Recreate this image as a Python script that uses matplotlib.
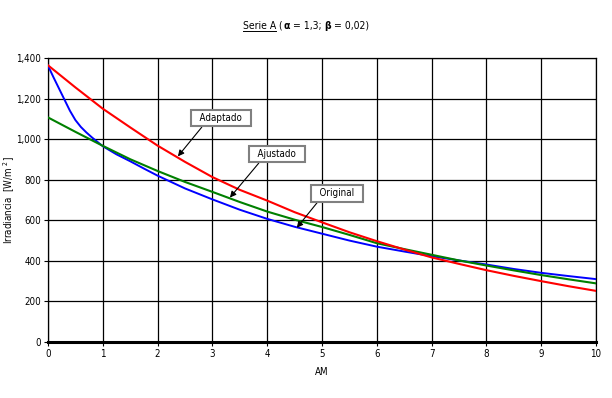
import numpy as np
import matplotlib
matplotlib.use("Agg")
import matplotlib.pyplot as plt
from matplotlib.ticker import FuncFormatter

plt.rcParams.update({"font.family": ["DejaVu Sans"], "font.stretch": "condensed",
                     "font.size": 7})

# valores
am = [0, 0.5, 1, 1.5, 2, 2.5, 3, 3.5, 4, 4.5, 5, 5.5, 6, 6.5, 7, 7.5, 8, 8.5, 9, 9.5, 10]
adaptado = [1364, 1255, 1150, 1058, 968, 888, 813, 750, 697, 640, 590, 541, 497, 456, 417, 385, 354, 326, 300, 275, 252]
ajustado = [1107, 1036, 967, 901, 843, 789, 740, 690, 643, 603, 567, 528, 487, 458, 430, 402, 377, 353, 330, 309, 289]
am_orig = [0, 0.1, 0.2, 0.3, 0.4, 0.5, 0.6, 0.7, 0.8, 0.9, 1, 1.25, 1.5, 1.75, 2, 2.5, 3, 3.5, 4,
           4.5, 5, 5.5, 6, 6.5, 7, 7.5, 8, 8.5, 9, 9.5, 10]
original = [1362, 1305, 1250, 1195, 1140, 1094, 1060, 1033, 1009, 987, 965, 925, 891, 855, 820, 757,
            703, 652, 607, 568, 534, 500, 470, 446, 423, 402, 382, 360, 341, 325, 310]

fig = plt.figure(figsize=(6.12, 3.98), dpi=100)
ax = fig.add_axes([48 / 612, 56 / 398, 548 / 612, 284 / 398])

ax.plot(am_orig, original, color="#0000ff", lw=1.4, zorder=3)
ax.plot(am, ajustado, color="#008000", lw=1.5, zorder=3)
ax.plot(am, adaptado, color="#ff0000", lw=1.5, zorder=4)

ax.set_xlim(0, 10); ax.set_ylim(0, 1400)
ax.set_xticks(range(0, 11)); ax.set_yticks(range(0, 1401, 200))
ax.yaxis.set_major_formatter(FuncFormatter(lambda v, p: f"{int(v):,}"))
ax.grid(color="black", lw=0.9)
ax.set_axisbelow(True)
for s in ["top", "left", "right"]:
    ax.spines[s].set_linewidth(0.9)
ax.spines["bottom"].set_linewidth(2.2)
ax.tick_params(length=3, width=0.8, pad=2, labelsize=7)
ax.set_xlabel("AM", labelpad=6)
ax.set_ylabel("Irradiancia  [W/m $^{2}$]", fontsize=7)
ax.yaxis.set_label_coords(-31 / 548, 0.5)

box = dict(boxstyle="square,pad=0.35", fc="white", ec="#808080", lw=1.5)
arr = dict(arrowstyle="-|>", color="black", lw=0.8, shrinkA=0, shrinkB=0, mutation_scale=9)
ax.annotate("  Adaptado  ", xy=(2.37, 915), xytext=(3.16, 1104), ha="center", va="center",
            bbox=box, arrowprops=dict(arr, relpos=(0.2, 0)), zorder=5)
ax.annotate("  Ajustado  ", xy=(3.32, 712), xytext=(4.18, 927), ha="center", va="center",
            bbox=box, arrowprops=dict(arr, relpos=(0.2, 0)), zorder=5)
ax.annotate("  Original  ", xy=(4.54, 563), xytext=(5.27, 734), ha="center", va="center",
            bbox=box, arrowprops=dict(arr, relpos=(0.15, 0)), zorder=5)

# titulo por partes: "Serie A" subrayado, alfa y beta en negrita
pieces = [("Serie A", "normal"), (" (", "normal"), ("\u03b1", "bold"), (" = 1,3; ", "normal"),
          ("\u03b2", "bold"), (" = 0,02)", "normal")]
fig.canvas.draw()
r = fig.canvas.get_renderer()
texts = [fig.text(0, 0, s, weight=w, fontsize=7.5) for s, w in pieces]
widths = [t.get_window_extent(r).width for t in texts]
x0 = 306 - sum(widths) / 2
ytop = 398 - 25
for t, w in zip(texts, widths):
    t.set_position((x0 / 612, (ytop - 4) / 398))
    x0 += w
t0 = texts[0].get_window_extent(r)
fig.add_artist(plt.Line2D([t0.x0 / 612, t0.x1 / 612], [(ytop - 5.5) / 398] * 2, color="black", lw=0.7))

fig.savefig("out.png", dpi=100)
